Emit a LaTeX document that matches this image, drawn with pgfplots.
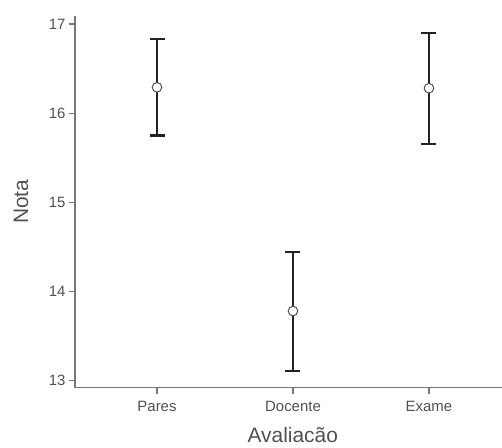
\documentclass[border=0pt]{standalone}
\usepackage{pgfplots}
\pgfplotsset{compat=1.18}
\usepackage{fontspec}
\setmainfont{Liberation Sans}
\definecolor{axgray}{HTML}{777777}
\definecolor{txtgray}{HTML}{505050}
\definecolor{barcol}{HTML}{222222}
\begin{document}
\begin{tikzpicture}
\useasboundingbox (-75bp,-60.3bp) rectangle (427bp,387.7bp);
\begin{axis}[
  scale only axis,
  width=427bp, height=371.7bp,
  xmin=-0.603, xmax=2.537,
  ymin=12.92, ymax=17.09,
  axis lines*=left,
  axis line style={axgray, line width=1.5bp},
  xtick={0,1,2}, xticklabels={Pares,Docente,Exame},
  ytick={13,14,15,16,17},
  tick align=outside,
  major tick length=6bp,
  tick style={axgray, line width=1.2bp},
  every tick label/.append style={font=\fontsize{15}{17}\selectfont, text=txtgray},
  /pgf/number format/assume math mode=true,
  xticklabel style={yshift=-4bp},
  ylabel={Nota}, xlabel={Avaliacão},
  label style={font=\fontsize{21}{24}\selectfont, text=txtgray},
  ylabel style={at={(axis description cs:-0.1265,0.5)}, anchor=center},
  xlabel style={at={(axis description cs:0.51,-0.128)}, anchor=center},
  clip=false,
]
\addplot[draw=none, mark=none,
  error bars/.cd, y dir=both, y explicit,
  error bar style={barcol, line width=2.2bp},
  error mark options={barcol, line width=2.2bp, rotate=90, mark size=7.5bp}]
  coordinates {
  (0,16.29) += (0,0.545) -= (0,0.54)
  (1,13.78) += (0,0.66) -= (0,0.675)
  (2,16.28) += (0,0.62) -= (0,0.63)
  };
\addplot[only marks, mark=*, mark size=4.8bp,
  mark options={fill=white, draw=txtgray, line width=1bp}]
  coordinates {(0,16.29) (1,13.78) (2,16.28)};
\end{axis}
\end{tikzpicture}
\end{document}
